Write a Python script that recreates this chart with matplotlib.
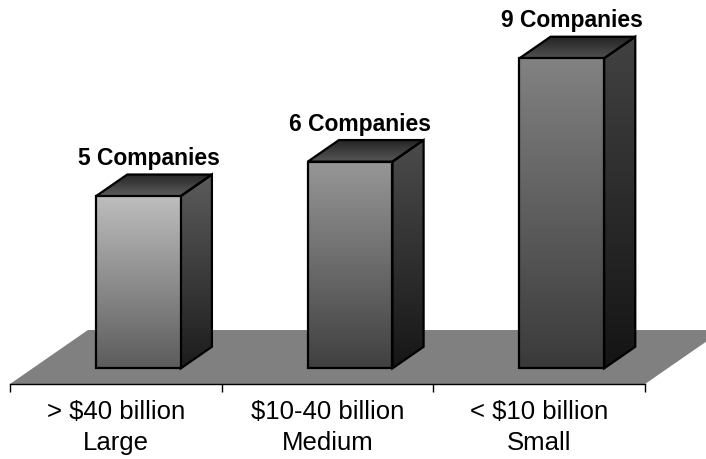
import numpy as np
import matplotlib.pyplot as plt
from matplotlib.patches import Polygon
from matplotlib.colors import LinearSegmentedColormap

plt.rcParams['font.family'] = ['Liberation Sans', 'DejaVu Sans']

categories = ["> $40 billion\nLarge", "$10-40 billion\nMedium", "< $10 billion\nSmall"]
counts = [5, 6, 9]
bar_labels = ["5 Companies", "6 Companies", "9 Companies"]

# per-bar gradient colours (top, bottom)
front_colors = [("#bebebe", "#5c5c5c"), ("#979797", "#404040"), ("#828282", "#3a3a3a")]
side_colors = [("#5c5c5c", "#1c1c1c"), ("#4c4c4c", "#161616"), ("#424242", "#141414")]
top_colors = [("#262626", "#5c5c5c"), ("#262626", "#565656"), ("#222222", "#505050")]

# oblique projection of the depth axis (full floor depth)
DX, DY = 0.368, 1.567
Z0, Z1 = 0.29, 0.69   # bar front / back depth
BAR_W = 0.40


def proj(u, v, z):
    return (u + z * DX, v + z * DY)


fig = plt.figure(figsize=(7.06, 4.6), dpi=100)
ax = fig.add_axes([0, 0, 1, 1])
ax.set_xlim(-0.0472, 3.288)
ax.set_ylim(-2.177, 11.176)


def grad_poly(verts, c_top, c_bottom, zorder):
    verts = np.array(verts)
    ax.add_patch(Polygon(verts, closed=True, facecolor='none', edgecolor='black',
                         lw=1.6, joinstyle='miter', zorder=zorder + 0.5))
    cmap = LinearSegmentedColormap.from_list('g', [c_bottom, c_top])
    grad = np.linspace(0, 1, 256).reshape(-1, 1)
    x0, x1 = verts[:, 0].min(), verts[:, 0].max()
    y0, y1 = verts[:, 1].min(), verts[:, 1].max()
    im = ax.imshow(grad, cmap=cmap, origin='lower', extent=(x0, x1, y0, y1),
                   aspect='auto', interpolation='bilinear', zorder=zorder)
    im.set_clip_path(Polygon(verts, closed=True, transform=ax.transData))


# floor
n = len(categories)
floor = [proj(0, 0, 0), proj(n, 0, 0), proj(n, 0, 1), proj(0, 0, 1)]
ax.add_patch(Polygon(floor, closed=True, facecolor='#808080', edgecolor='none', zorder=1))

for i, val in enumerate(counts):
    cx = i + 0.5
    l, r = cx - BAR_W / 2, cx + BAR_W / 2
    front = [proj(l, 0, Z0), proj(r, 0, Z0), proj(r, val, Z0), proj(l, val, Z0)]
    side = [proj(r, 0, Z0), proj(r, 0, Z1), proj(r, val, Z1), proj(r, val, Z0)]
    top = [proj(l, val, Z0), proj(r, val, Z0), proj(r, val, Z1), proj(l, val, Z1)]
    grad_poly(side, *side_colors[i], zorder=3)
    grad_poly(top, *top_colors[i], zorder=3)
    grad_poly(front, *front_colors[i], zorder=4)
    # label sits above the back edge of the top face
    lx = proj(cx, val, 0.42)[0]
    ly = proj(cx, val, Z1)[1]
    ax.annotate(bar_labels[i], (lx, ly), xytext=(0, 7.5), textcoords='offset points',
                ha='center', va='baseline', fontsize=16.5, fontweight='bold', zorder=6)

# category axis along the floor's front edge
for s in ['top', 'right', 'left']:
    ax.spines[s].set_visible(False)
ax.spines['bottom'].set_position(('data', 0))
ax.spines['bottom'].set_bounds(0, n)
ax.spines['bottom'].set_linewidth(1.0)
ax.spines['bottom'].set_zorder(2)
ax.set_xticks(np.arange(n + 1))
ax.set_xticklabels([])
ax.set_xticks(np.arange(n) + 0.5, categories, minor=True)
for t in ax.get_xticklabels(minor=True):
    t.set_linespacing(1.36)
ax.tick_params(axis='x', which='major', direction='out', length=5.5, width=1.0)
ax.tick_params(axis='x', which='minor', length=0, pad=11, labelsize=18.5)
ax.set_yticks([])
ax.patch.set_visible(False)

fig.savefig('out.png', dpi=100)
